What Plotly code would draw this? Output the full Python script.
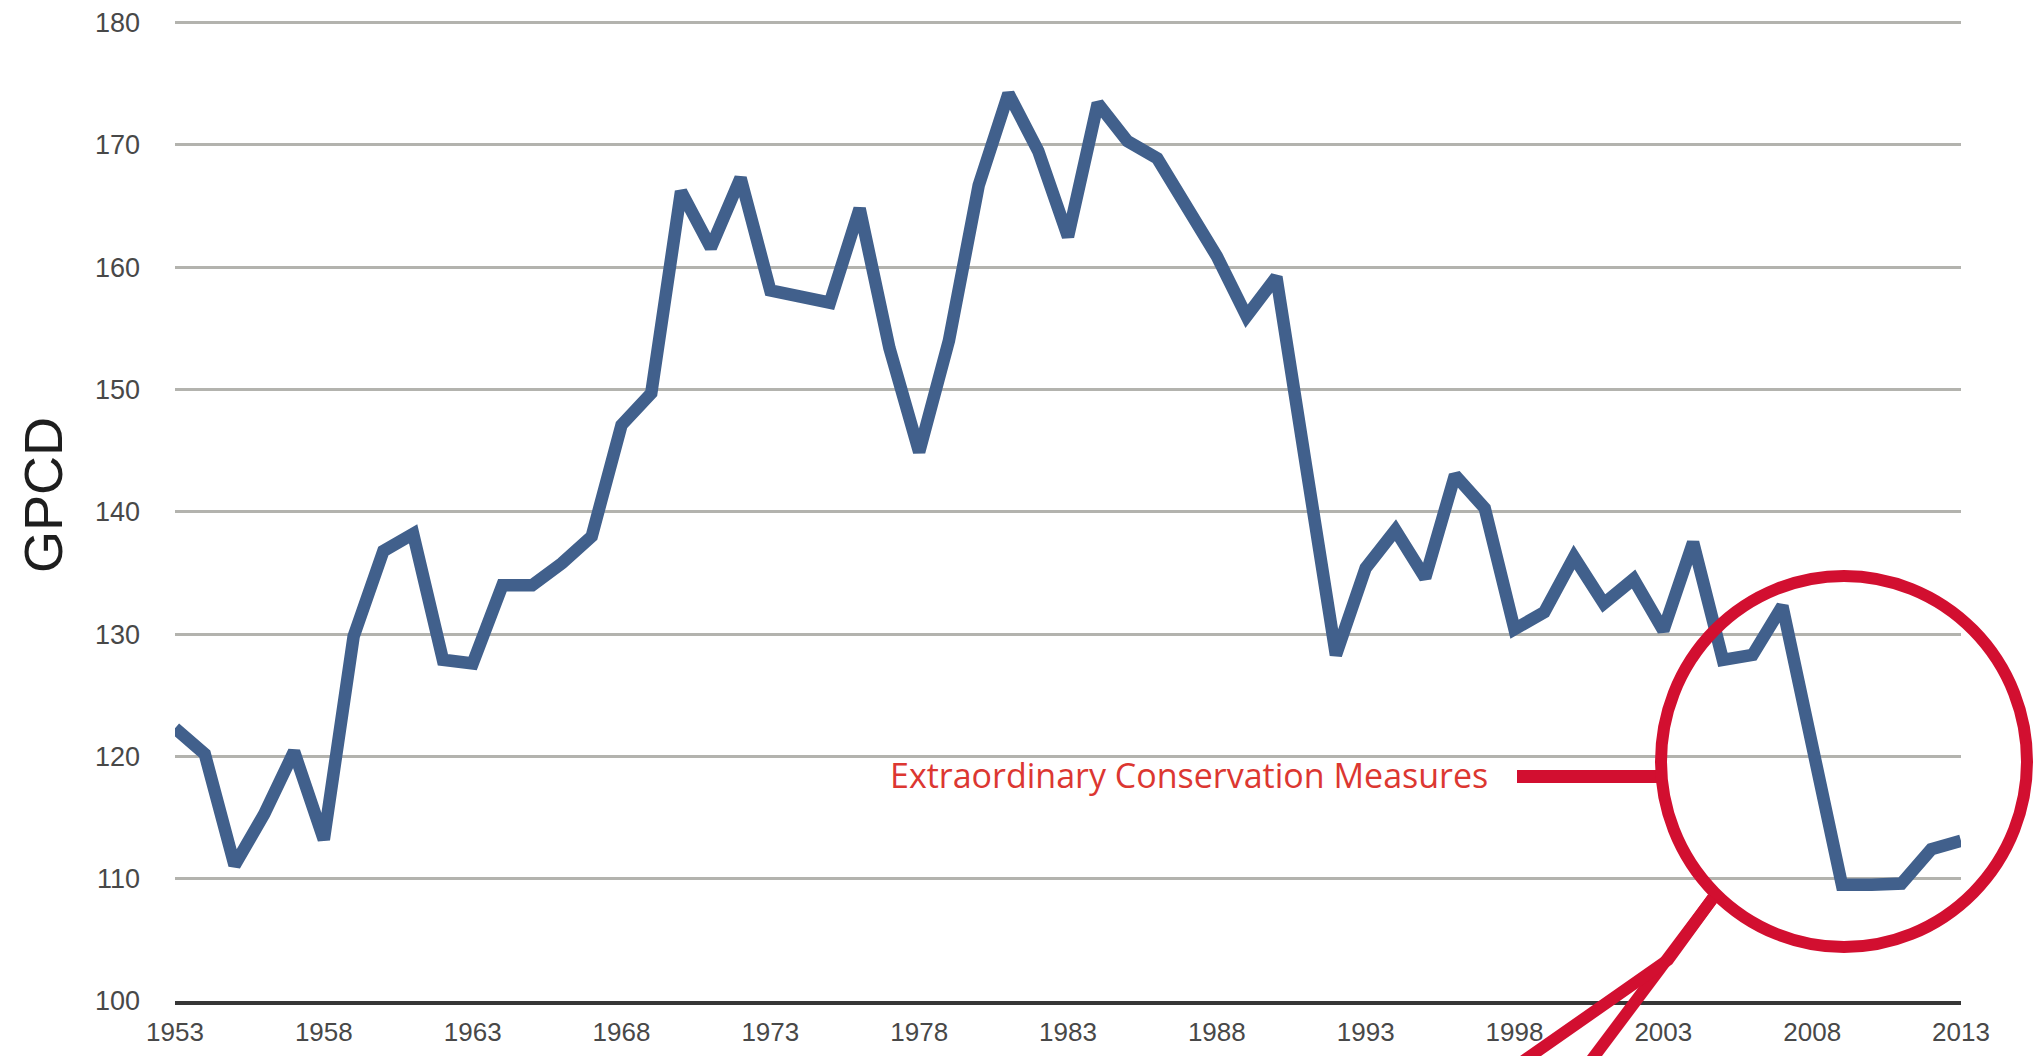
import plotly.graph_objects as go

# ---- data ----
years = [1953, 1954, 1955, 1956, 1957, 1958, 1959, 1960, 1961, 1962,
         1963, 1964, 1965, 1966, 1967, 1968, 1969, 1970, 1971, 1972,
         1973, 1974, 1975, 1976, 1977, 1978, 1979, 1980, 1981, 1982,
         1983, 1984, 1985, 1986, 1987, 1988, 1989, 1990, 1991, 1992,
         1993, 1994, 1995, 1996, 1997, 1998, 1999, 2000, 2001, 2002,
         2003, 2004, 2005, 2006, 2007, 2008, 2009, 2010, 2011, 2012, 2013]
gpcd = [122.3, 120.2, 111.1, 115.3, 120.4, 113.2, 129.8, 136.8, 138.2, 127.9,
        127.6, 134.0, 134.0, 135.8, 138.0, 147.1, 149.7, 166.2, 161.6, 167.3,
        158.1, 157.5, 157.1, 164.8, 153.4, 144.9, 154.0, 166.7, 174.2, 169.5,
        162.5, 173.4, 170.3, 168.9, 165.0, 160.9, 156.0, 159.2, 143.7, 128.3,
        135.4, 138.5, 134.6, 143.0, 140.3, 130.4, 131.8, 136.3, 132.5, 134.5,
        130.3, 137.5, 127.9, 128.3, 132.3, 120.8, 109.5, 109.5, 109.6, 112.4, 113.1]
x_tick_years = [1953, 1958, 1963, 1968, 1973, 1978, 1983, 1988, 1993, 1998, 2003, 2008, 2013]
y_tick_values = [100, 110, 120, 130, 140, 150, 160, 170, 180]
y_title = "GPCD"
callout_text = "Extraordinary Conservation Measures"

# ---- layout constants (pixels) ----
W, H = 2036, 1056
ML, MR, MT, MB = 175, 75, 19, 55
PW, PH = W - ML - MR, H - MT - MB


def px(xp):
    return (xp - ML) / PW


def py(yp):
    return (H - MB - yp) / PH


RED = "#d20f30"
BLUE = "#41608c"

fig = go.Figure()
fig.add_trace(go.Scatter(
    x=years, y=gpcd, mode="lines",
    line=dict(color=BLUE, width=12.5),
    hoverinfo="x+y", showlegend=False,
))

tick_font = dict(family="Liberation Sans, Arial, sans-serif", size=26, color="#484848")

fig.update_layout(
    width=W, height=H,
    margin=dict(l=ML, r=MR, t=MT, b=MB, pad=0, autoexpand=False),
    paper_bgcolor="white", plot_bgcolor="white",
    showlegend=False,
    xaxis=dict(
        range=[years[0], years[-1]], automargin=False,
        tickmode="array", tickvals=x_tick_years,
        ticktext=[str(y) for y in x_tick_years],
        showgrid=False, zeroline=False,
        showline=True, linecolor="#363636", linewidth=4,
        ticks="", tickfont=tick_font, ticklabelstandoff=5,
    ),
    yaxis=dict(
        range=[100, 180.3], automargin=False,
        tickmode="array", tickvals=y_tick_values,
        showgrid=True, gridcolor="#b3b3ae", gridwidth=3,
        zeroline=False, showline=False,
        ticks="", tickfont=dict(family="Liberation Sans, Arial, sans-serif", size=27, color="#484848"),
        ticklabelstandoff=34,
    ),
)

# y axis title
fig.add_annotation(
    text=y_title, textangle=-90, xref="paper", yref="paper",
    x=px(43), y=py(495), xanchor="center", yanchor="middle", showarrow=False,
    font=dict(family="Liberation Sans, Arial, sans-serif", size=54, color="#1e1e1e"),
)

# callout text
fig.add_annotation(
    text=callout_text, xref="paper", yref="paper",
    x=px(1490), y=py(775), xanchor="right", yanchor="middle", showarrow=False,
    font=dict(family="Open Sans, sans-serif", size=34, color="#dc3731"),
)

# callout bar
fig.add_shape(type="line", xref="paper", yref="paper",
              x0=px(1517), y0=py(776.5), x1=px(1662), y1=py(776.5),
              line=dict(color=RED, width=13))
# circle
fig.add_shape(type="circle", xref="paper", yref="paper",
              x0=px(1661), x1=px(2027), y0=py(947), y1=py(576),
              line=dict(color=RED, width=12))
# pointer lines
fig.add_shape(type="line", xref="paper", yref="paper",
              x0=px(1713), y0=py(898), x1=px(1590), y1=py(1062),
              line=dict(color=RED, width=12))
fig.add_shape(type="path", xref="paper", yref="paper",
              path="M {:.4f},{:.4f} L {:.4f},{:.4f} L {:.4f},{:.4f}".format(
                  px(1713), py(898), px(1668), py(960), px(1522), py(1062)),
              line=dict(color=RED, width=12))

fig.write_html("out.html", config={"displayModeBar": False},
               post_script="document.body.style.margin='0';document.body.style.overflow='hidden';")
